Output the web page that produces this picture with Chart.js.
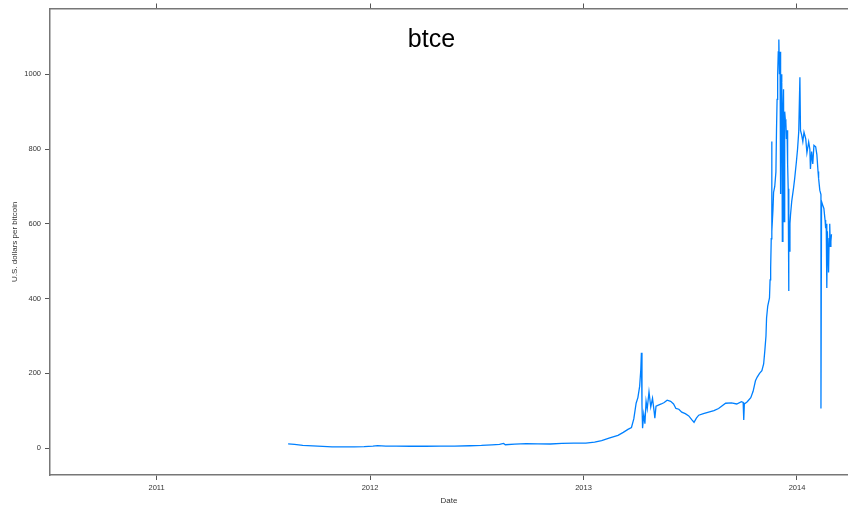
<!DOCTYPE html>
<html>
<head>
<meta charset="utf-8">
<title>btce</title>
<script src="https://cdn.jsdelivr.net/npm/chart.js@4.4.1/dist/chart.umd.min.js"></script>
<style>
  html, body { margin: 0; padding: 0; background: #fff; overflow: hidden; }
  #wrap { width: 848px; height: 510px; }
</style>
</head>
<body>
<div id="wrap"><canvas id="chart" width="848" height="510"></canvas></div>
<script>
// btc-e daily price
const dates = [
  "2011-08-14", "2011-08-25", "2011-09-08", "2011-09-25", "2011-10-12", "2011-10-28", "2011-11-15", "2011-12-05", "2011-12-22",
  "2012-01-06", "2012-01-14", "2012-01-28", "2012-02-15", "2012-03-10", "2012-04-05", "2012-05-01", "2012-05-25", "2012-06-20", "2012-07-10",
  "2012-07-28", "2012-08-10", "2012-08-17", "2012-08-20", "2012-09-05", "2012-09-25", "2012-10-15", "2012-11-05", "2012-11-25", "2012-12-15",
  "2013-01-05", "2013-01-20", "2013-02-01", "2013-02-15", "2013-03-01", "2013-03-10", "2013-03-18", "2013-03-24", "2013-03-28", "2013-04-01",
  "2013-04-04", "2013-04-07", "2013-04-09", "2013-04-10", "2013-04-11", "2013-04-12", "2013-04-14", "2013-04-16", "2013-04-18", "2013-04-20",
  "2013-04-23", "2013-04-26", "2013-04-29", "2013-05-02", "2013-05-03", "2013-05-05", "2013-05-09", "2013-05-14", "2013-05-19", "2013-05-24",
  "2013-05-30", "2013-06-04", "2013-06-08", "2013-06-13", "2013-06-18", "2013-06-24", "2013-06-30", "2013-07-05", "2013-07-09", "2013-07-13",
  "2013-07-17", "2013-07-25", "2013-08-03", "2013-08-12", "2013-08-20", "2013-09-01", "2013-09-11", "2013-09-20", "2013-09-28", "2013-10-01",
  "2013-10-02", "2013-10-03", "2013-10-08", "2013-10-14", "2013-10-18", "2013-10-22", "2013-10-25", "2013-10-29", "2013-11-02", "2013-11-05",
  "2013-11-07", "2013-11-09", "2013-11-10", "2013-11-12", "2013-11-15", "2013-11-16", "2013-11-17", "2013-11-18", "2013-11-19", "2013-11-19",
  "2013-11-21", "2013-11-22", "2013-11-24", "2013-11-26", "2013-11-27", "2013-11-28", "2013-11-29", "2013-11-30", "2013-12-01", "2013-12-02",
  "2013-12-03", "2013-12-04", "2013-12-04", "2013-12-05", "2013-12-06", "2013-12-07", "2013-12-08", "2013-12-09", "2013-12-10", "2013-12-11",
  "2013-12-12", "2013-12-13", "2013-12-14", "2013-12-15", "2013-12-16", "2013-12-17", "2013-12-18", "2013-12-18", "2013-12-19", "2013-12-20",
  "2013-12-21", "2013-12-23", "2013-12-26", "2013-12-28", "2013-12-31", "2014-01-02", "2014-01-04", "2014-01-06", "2014-01-07", "2014-01-09",
  "2014-01-11", "2014-01-13", "2014-01-16", "2014-01-18", "2014-01-21", "2014-01-23", "2014-01-24", "2014-01-26", "2014-01-28", "2014-01-30",
  "2014-02-02", "2014-02-04", "2014-02-06", "2014-02-07", "2014-02-09", "2014-02-11", "2014-02-11", "2014-02-12", "2014-02-14", "2014-02-16",
  "2014-02-18", "2014-02-19", "2014-02-20", "2014-02-21", "2014-02-21", "2014-02-22", "2014-02-24", "2014-02-25", "2014-02-26", "2014-02-27",
  "2014-02-28", "2014-03-01"
];
const prices = [
  11, 10, 7.5, 6, 4.5, 3.5, 3, 3.2, 4,
  5.5, 6.8, 5.5, 5, 4.9, 4.9, 5.1, 5.3, 6.2, 7,
  8.5, 10, 12.5, 9, 10.5, 12, 11.5, 11, 12.5, 13.5,
  13.5, 16, 20, 27, 34, 42, 50, 55, 78, 120,
  135, 165, 210, 255, 115, 53, 90, 65, 125, 105,
  150, 110, 133, 95, 80, 112, 115, 118, 122, 128,
  125, 118, 106, 104, 96, 92, 86, 76, 69, 80,
  88, 92, 96, 100, 106, 120, 121, 118, 124, 122,
  75, 118, 124, 135, 152, 180, 190, 200, 207, 225,
  260, 300, 348, 380, 402, 450, 481, 560, 820, 580,
  640, 684, 700, 739, 850, 933, 1000, 1060, 1093, 1000,
  1060, 1050, 680, 1000, 979, 553, 900, 960, 606, 900,
  880, 872, 827, 850, 760, 694, 420, 600, 527, 600,
  625, 660, 694, 720, 766, 800, 846, 992, 850, 838,
  820, 845, 827, 790, 819, 800, 747, 793, 760, 810,
  806, 785, 740, 721, 690, 678, 106, 660, 650, 641,
  610, 588, 600, 561, 428, 580, 470, 560, 600, 540,
  553, 572
];
const yearTicks = [2011, 2012, 2013, 2014];
const priceTicks = [0, 200, 400, 600, 800, 1000];

function toYear(s) {
  const d = Date.parse(s + "T00:00:00Z");
  const y = parseInt(s.slice(0, 4));
  const start = Date.UTC(y, 0, 1);
  const end = Date.UTC(y + 1, 0, 1);
  return y + (d - start) / (end - start);
}

const points = dates.map((d, i) => ({ x: toYear(d), y: prices[i] }));

Chart.defaults.font.family = "'Liberation Sans', Arial, sans-serif";
Chart.defaults.color = "#333";

const xMin = 2010.501, xMax = 2014.239;
const axisColor = "#777";

const titleInside = {
  id: "titleInside",
  afterDraw(chart) {
    const ctx = chart.ctx;
    const a = chart.chartArea;
    ctx.save();
    ctx.font = "25px 'Liberation Sans', Arial, sans-serif";
    ctx.fillStyle = "#000";
    ctx.textAlign = "center";
    ctx.textBaseline = "alphabetic";
    ctx.fillText("btce", a.left + (a.right - a.left) * 0.478, a.top + 38);
    ctx.restore();
  },
};

new Chart(document.getElementById("chart"), {
  type: "line",
  data: {
    datasets: [
      {
        data: points,
        borderColor: "#0080ff",
        borderWidth: 1.3,
        pointRadius: 0,
        tension: 0,
        fill: false,
      },
    ],
  },
  options: {
    responsive: false,
    animation: false,
    devicePixelRatio: 1,
    layout: { padding: 0 },
    plugins: { legend: { display: false }, tooltip: { enabled: false } },
    scales: {
      x: {
        type: "linear",
        position: "bottom",
        min: xMin,
        max: xMax,
        afterFit: (s) => { s.height = 35; },
        afterBuildTicks: (s) => { s.ticks = yearTicks.map((v) => ({ value: v })); },
        ticks: { font: { size: 7.5 }, color: "#333", padding: 3, maxRotation: 0, callback: (v) => String(v) },
        grid: { drawOnChartArea: false, tickLength: 5, color: "#555" },
        border: { color: axisColor, width: 1.5 },
        title: { display: true, text: "Date", font: { size: 8 }, color: "#333", padding: { top: 0, bottom: 4 } },
      },
      xTop: {
        type: "linear",
        position: "top",
        min: xMin,
        max: xMax,
        afterFit: (s) => { s.height = 6; },
        afterBuildTicks: (s) => { s.ticks = yearTicks.map((v) => ({ value: v })); },
        ticks: { display: false },
        grid: { drawOnChartArea: false, tickLength: 5, color: "#555" },
        border: { color: axisColor, width: 1.5 },
      },
      y: {
        type: "linear",
        min: -72,
        max: 1176,
        afterFit: (s) => { s.width = 50; },
        afterBuildTicks: (s) => { s.ticks = priceTicks.map((v) => ({ value: v })); },
        ticks: { font: { size: 7.5 }, color: "#333", padding: 4, callback: (v) => String(v) },
        grid: { drawOnChartArea: false, tickLength: 5, color: "#555" },
        border: { color: axisColor, width: 1.5 },
        title: { display: true, text: "U.S. dollars per bitcoin", font: { size: 8 }, color: "#333", padding: { top: 10, bottom: 0 } },
      },
    },
  },
  plugins: [titleInside],
});
</script>
</body>
</html>
